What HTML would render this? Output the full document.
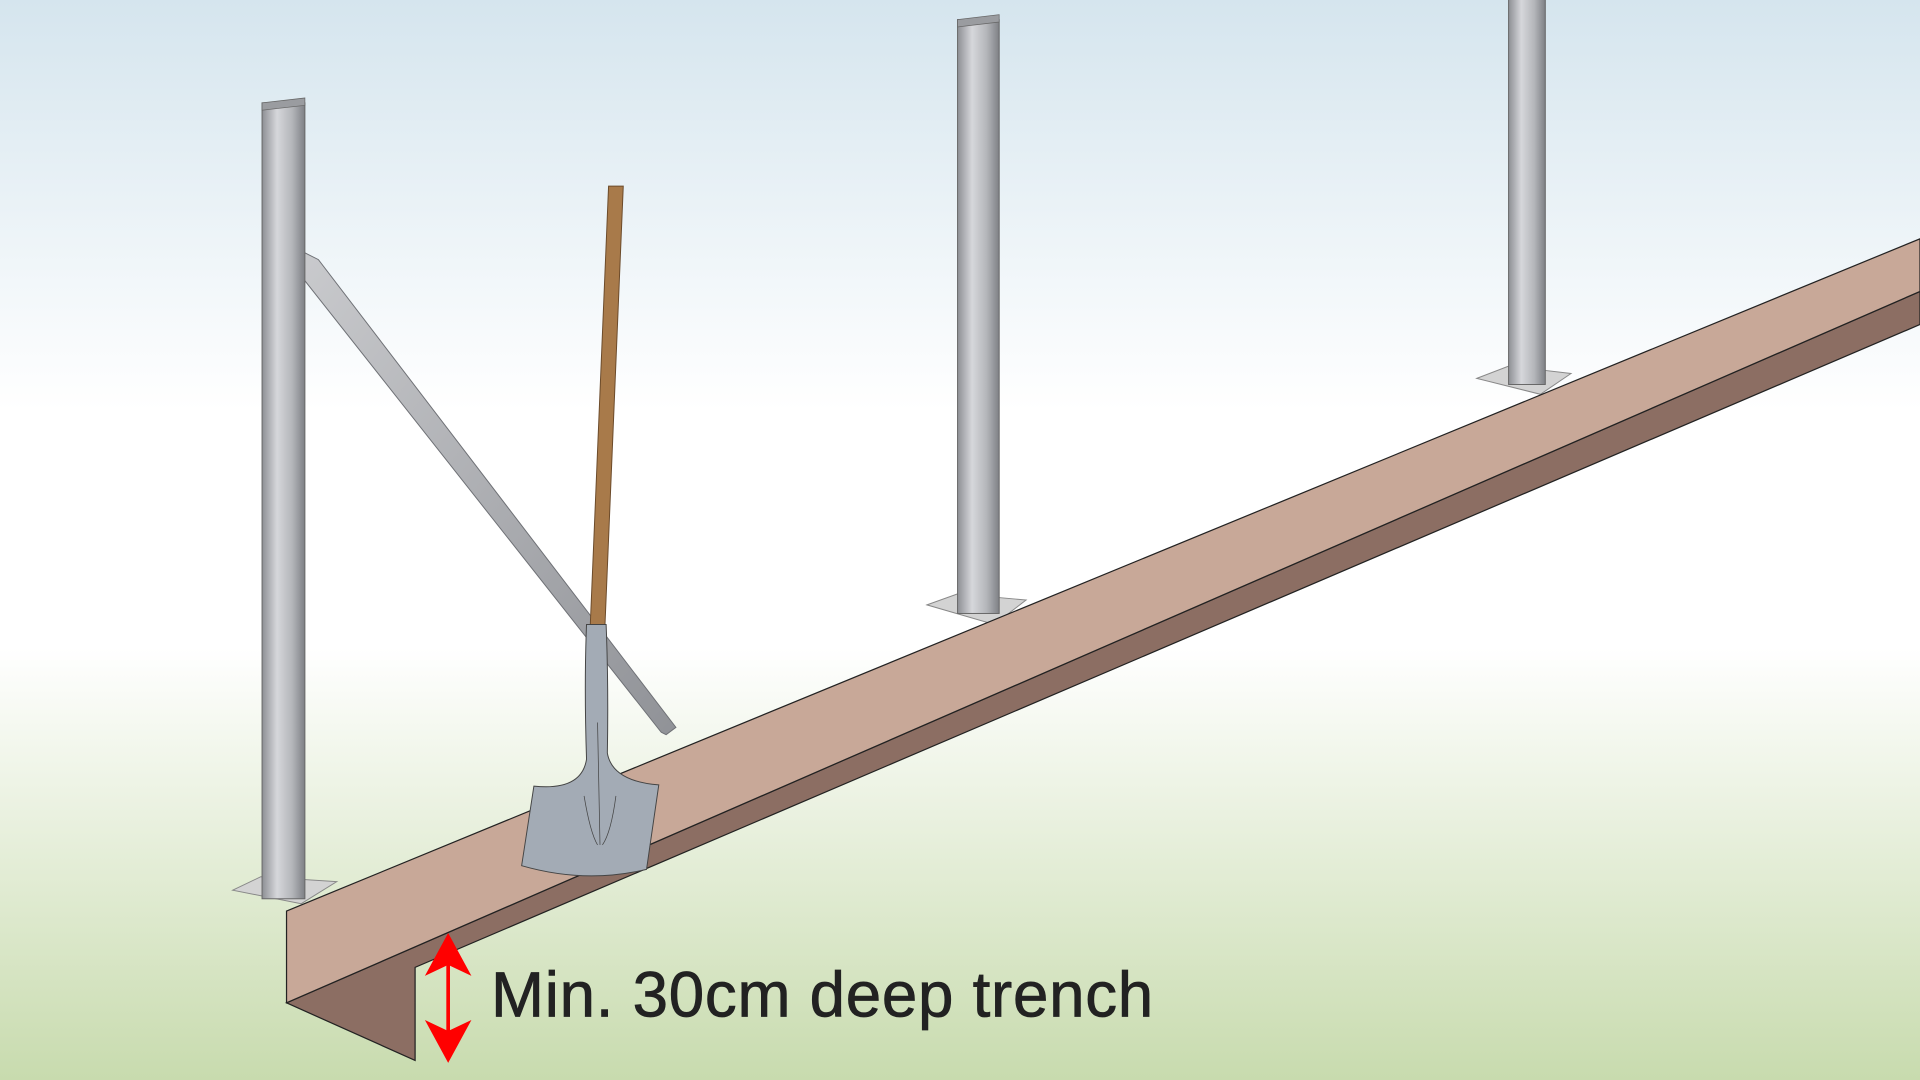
<!DOCTYPE html>
<html><head><style>html,body{margin:0;padding:0;width:1920px;height:1080px;overflow:hidden}</style></head>
<body>
<svg width="1920" height="1080" viewBox="0 0 1568 882" preserveAspectRatio="none" xmlns="http://www.w3.org/2000/svg">
<defs>
<linearGradient id="bg" x1="0" y1="0" x2="0" y2="1">
<stop offset="0" stop-color="#d5e5ee"/>
<stop offset="0.38" stop-color="#ffffff"/>
<stop offset="0.6" stop-color="#ffffff"/>
<stop offset="1" stop-color="#c8dbae"/>
</linearGradient>
<linearGradient id="post" x1="0" y1="0" x2="1" y2="0">
<stop offset="0" stop-color="#8d8f94"/>
<stop offset="0.35" stop-color="#d6d7db"/>
<stop offset="0.7" stop-color="#b4b6ba"/>
<stop offset="1" stop-color="#7e8085"/>
</linearGradient>
<linearGradient id="brace" x1="0" y1="0" x2="1" y2="1">
<stop offset="0" stop-color="#c9cacd"/>
<stop offset="1" stop-color="#909297"/>
</linearGradient>
</defs>
<rect width="1568" height="882" fill="url(#bg)"/>

<polygon points="190,727 213,716 275,720 246,738" fill="#d3d3d3" stroke="#888" stroke-width="0.8"/>
<polygon points="757,494 782,485 838,490 812,510" fill="#d3d3d3" stroke="#888" stroke-width="0.8"/>
<polygon points="1206,309 1232,299 1283,305 1258,322" fill="#d3d3d3" stroke="#888" stroke-width="0.8"/>

<polygon points="248,206 260,212 552,594 544,600 540,598 248,228" fill="url(#brace)" stroke="#6e7075" stroke-width="0.8"/>

<rect x="214" y="84" width="35" height="650" fill="url(#post)" stroke="#666" stroke-width="0.8"/>
<polygon points="214,84 249,80 249,86 214,90" fill="#9a9ca0" stroke="#666" stroke-width="0.6"/>
<rect x="782" y="16" width="34" height="485" fill="url(#post)" stroke="#666" stroke-width="0.8"/>
<polygon points="782,16 816,12 816,18 782,22" fill="#9a9ca0" stroke="#666" stroke-width="0.6"/>
<rect x="1232" y="-2" width="30" height="316" fill="url(#post)" stroke="#666" stroke-width="0.8"/>

<polygon points="234,819 339,866 339,790 1568,265 1568,238" fill="#8c6e63" stroke="#222" stroke-width="1"/>
<polygon points="234,744 1568,195 1568,238 234,819" fill="#c8a898" stroke="#222" stroke-width="1"/>

<polygon points="497,152 509,152 494,512 482,512" fill="#a87a4a" stroke="#6b4a2a" stroke-width="0.8"/>
<path d="M479,510 L495,510 Q497,560 496,615 Q500,638 538,641 L528,710 Q478,722 426,707 L436,642 Q475,646 479,620 Q477,560 479,510 Z" fill="#a3abb5" stroke="#444" stroke-width="0.8"/>
<path d="M488,590 L490,690 M477,650 Q482,680 488,690 M503,650 Q499,680 492,690" fill="none" stroke="#444" stroke-width="0.6"/>

<line x1="366" y1="780" x2="366" y2="850" stroke="#ff0000" stroke-width="3"/>
<polygon points="366,762 347,797 366,788 385,797" fill="#ff0000"/>
<polygon points="366,868 347,833 366,842 385,833" fill="#ff0000"/>

<text x="401" y="830" font-family="Liberation Sans, sans-serif" font-size="52" letter-spacing="0.6" fill="#222" stroke="#222" stroke-width="0.6">Min. 30cm deep trench</text>
</svg>
</body></html>
